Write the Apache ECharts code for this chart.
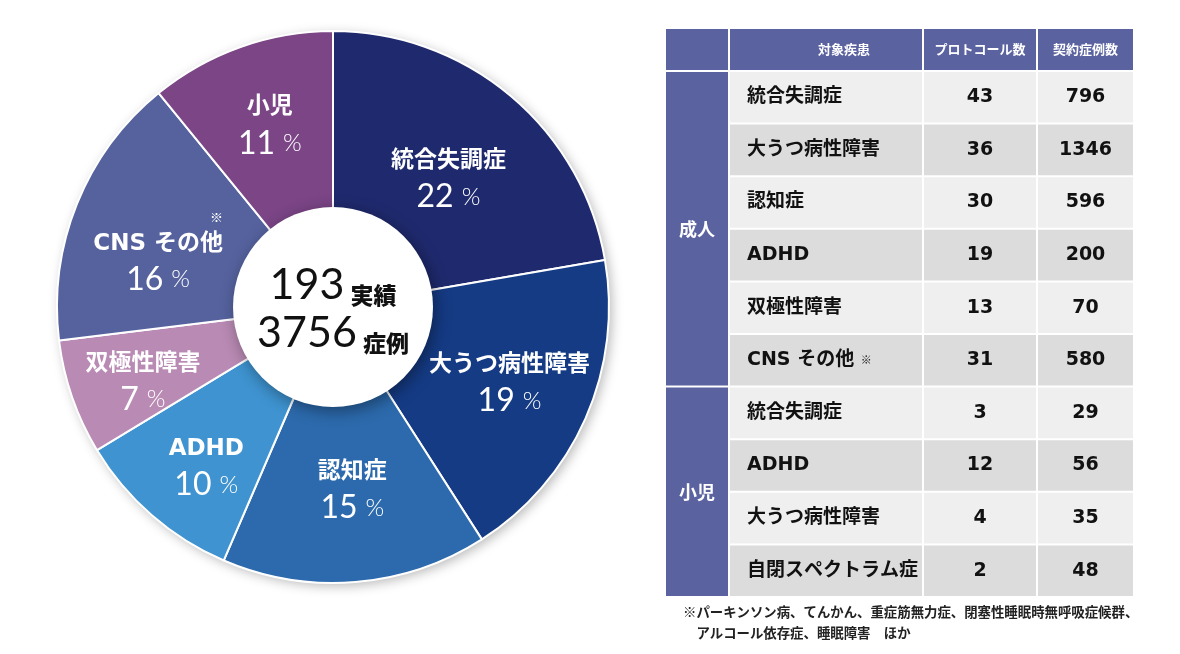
<!DOCTYPE html>
<html>
<head>
<meta charset="utf-8">
<script src="https://cdn.jsdelivr.net/npm/echarts@6.0.0/dist/echarts.min.js"></script>
<style>
html, body { margin: 0; padding: 0; background: #ffffff; }
#main { width: 1180px; height: 654px; }
</style>
</head>
<body>
<div id="main"></div>
<script>
// 表のデータ（成人 / 小児）
const adultDiseases = ['統合失調症', '大うつ病性障害', '認知症', 'ADHD', '双極性障害', 'CNS その他'];
const adultProtocols = [43, 36, 30, 19, 13, 31];
const adultCases = [796, 1346, 596, 200, 70, 580];
const childDiseases = ['統合失調症', 'ADHD', '大うつ病性障害', '自閉スペクトラム症'];
const childProtocols = [3, 12, 4, 2];
const childCases = [29, 56, 35, 48];
const groupNames = ['成人', '小児'];
const tableHeaders = ['', '対象疾患', 'プロトコール数', '契約症例数'];
const notedName = 'CNS その他';
const footnotes = ['※パーキンソン病、てんかん、重症筋無力症、閉塞性睡眠時無呼吸症候群、', '　アルコール依存症、睡眠障害　ほか'];
// 円グラフ: 成人の各疾患 + 小児合計
const sliceNames = adultDiseases.concat([groupNames[1]]);
const sliceColors = ['#1f2a6e', '#153b85', '#2c6aad', '#3e93d0', '#b98ab4', '#55629e', '#7b4586'];
// ラベルの微調整（px）
const labelNudge = [[-6, 18], [4, 2], [4, -3], [-3, 20], [-12, 15], [0, 16], [0, -2]];

const sum = arr => arr.reduce((s, v) => s + v, 0);
const totalProtocols = sum(adultProtocols) + sum(childProtocols);
const totalCases = sum(adultCases) + sum(childCases);

const pieData = sliceNames.map((name, i) => ({
	name: name,
	value: i < adultProtocols.length ? adultProtocols[i] : sum(childProtocols),
	itemStyle: { color: sliceColors[i] }
}));

const latinJp = "'DejaVu Sans', 'Noto Sans CJK JP', sans-serif";
const jp = "'Noto Sans CJK JP', sans-serif";
const num = "Lato, 'Noto Sans', sans-serif";

// ---- 表（graphic で描画）----
const tableLeft = 665;
const tableTop = 28;
const colWidths = [64, 194, 114, 97];
const headerH = 43;
const rowH = 52.6;
const headColor = '#5b62a0';
const colX = [tableLeft];
colWidths.forEach(w => colX.push(colX[colX.length - 1] + w));

const rows = adultDiseases.map((d, i) => ({ g: 0, name: d, p: adultProtocols[i], c: adultCases[i] }))
	.concat(childDiseases.map((d, i) => ({ g: 1, name: d, p: childProtocols[i], c: childCases[i] })));

const elements = [];

function rect(x, y, w, h, fill) {
	elements.push({
		type: 'rect',
		silent: true,
		shape: { x: x + 1, y: y + 1, width: w - 2, height: h - 2 },
		style: { fill: fill }
	});
}

function label(x, y, text, align, style) {
	elements.push({
		type: 'text',
		silent: true,
		x: x,
		y: y,
		style: Object.assign({
			text: text,
			align: align,
			textAlign: align,
			verticalAlign: 'middle',
			textVerticalAlign: 'middle'
		}, style)
	});
}

// ヘッダー
tableHeaders.forEach((h, c) => {
	rect(colX[c], tableTop, colWidths[c], headerH, headColor);
	if (h) {
		const cx = colX[c] + colWidths[c] / 2 + (c === 1 ? 18 : 0);
		label(cx, tableTop + headerH / 2, h, 'center', {
			fill: '#ffffff', fontSize: 13, fontWeight: 'bold', fontFamily: jp
		});
	}
});

// 成人 / 小児 の結合セル
groupNames.forEach((g, gi) => {
	const first = rows.findIndex(r => r.g === gi);
	const count = rows.filter(r => r.g === gi).length;
	const y = tableTop + headerH + first * rowH;
	rect(colX[0], y, colWidths[0], count * rowH, headColor);
	label(colX[0] + colWidths[0] / 2, y + count * rowH / 2, g, 'center', {
		fill: '#ffffff', fontSize: 18, fontWeight: 'bold', fontFamily: jp
	});
});

// 本体
rows.forEach((r, i) => {
	const y = tableTop + headerH + i * rowH;
	const fill = i % 2 ? '#dcdcdc' : '#efefef';
	for (let c = 1; c < 4; c++) rect(colX[c], y, colWidths[c], rowH, fill);
	const cy = y + rowH / 2;
	const base = { fill: '#111111', fontSize: 19, fontWeight: 'bold', fontFamily: latinJp };
	const text = r.name === notedName ? r.name + ' {note|※}' : r.name;
	label(colX[1] + 18, cy, text, 'left', Object.assign({
		rich: { note: { fontSize: 11, fontWeight: 'bold', fill: '#111111', fontFamily: jp } }
	}, base));
	label(colX[2] + colWidths[2] / 2, cy, String(r.p), 'center', base);
	label(colX[3] + colWidths[3] / 2, cy, String(r.c), 'center', base);
});

// 注釈
footnotes.forEach((t, i) => {
	label(683, 612 + i * 21, t, 'left', {
		fill: '#222222', fontSize: 13.4, fontWeight: 'bold', fontFamily: jp
	});
});

const chart = echarts.init(document.getElementById('main'));
const option = {
	animation: false,
	backgroundColor: '#ffffff',
	graphic: { elements: elements },
	series: [
		{
			// 外周の影
			type: 'pie',
			silent: true,
			center: [333, 307],
			radius: [0, 276],
			z: 1,
			label: { show: false },
			labelLine: { show: false },
			data: [{
				value: 1,
				itemStyle: {
					color: '#ffffff',
					shadowBlur: 12,
					shadowOffsetX: 3,
					shadowOffsetY: 3,
					shadowColor: 'rgba(0, 0, 0, 0.28)'
				}
			}]
		},
		{
			name: '対象疾患',
			type: 'pie',
			silent: true,
			center: [333, 307],
			radius: [95, 276],
			startAngle: 90,
			clockwise: true,
			percentPrecision: 0,
			avoidLabelOverlap: false,
			z: 2,
			itemStyle: {
				borderColor: '#ffffff',
				borderWidth: 2
			},
			label: {
				show: true,
				position: 'inside',
				align: 'center',
				formatter: function (p) {
					const mark = p.name === notedName ? '{note|※}\n' : '';
					return mark + '{name|' + p.name + '}\n{pct|' + p.percent + '}{pc|%}';
				},
				rich: {
					note: { fontSize: 13, color: '#ffffff', fontFamily: jp, align: 'right', lineHeight: 22 },
					name: { fontSize: 23, fontWeight: 'bold', color: '#ffffff', fontFamily: latinJp, lineHeight: 32 },
					pct: { fontSize: 32, fontWeight: 400, color: '#ffffff', fontFamily: num, lineHeight: 40 },
					pc: { fontSize: 24, fontWeight: 300, color: '#ffffff', fontFamily: num, lineHeight: 40, padding: [0, 0, 0, 8] }
				}
			},
			labelLayout: function (params) {
				const n = labelNudge[params.dataIndex] || [0, 0];
				return { dx: n[0], dy: n[1] };
			},
			labelLine: { show: false },
			data: pieData
		},
		{
			// 中央の白い円
			type: 'pie',
			silent: true,
			center: [333, 307],
			radius: [0, 100],
			z: 3,
			labelLine: { show: false },
			label: {
				show: true,
				position: 'center',
				formatter: '{num|' + totalProtocols + '}{unit|実績}\n{num|' + totalCases + '}{unit|症例}',
				rich: {
					num: { fontSize: 43, color: '#111111', fontFamily: num, lineHeight: 48, verticalAlign: 'bottom' },
					unit: { fontSize: 23, fontWeight: 900, color: '#111111', fontFamily: jp, lineHeight: 48, verticalAlign: 'bottom', padding: [0, 0, 0, 6] }
				}
			},
			data: [{
				value: 1,
				itemStyle: {
					color: '#ffffff',
					shadowBlur: 16,
					shadowOffsetX: 3,
					shadowOffsetY: 4,
					shadowColor: 'rgba(0, 0, 0, 0.4)'
				}
			}]
		}
	]
};
chart.setOption(option);
</script>
</body>
</html>
